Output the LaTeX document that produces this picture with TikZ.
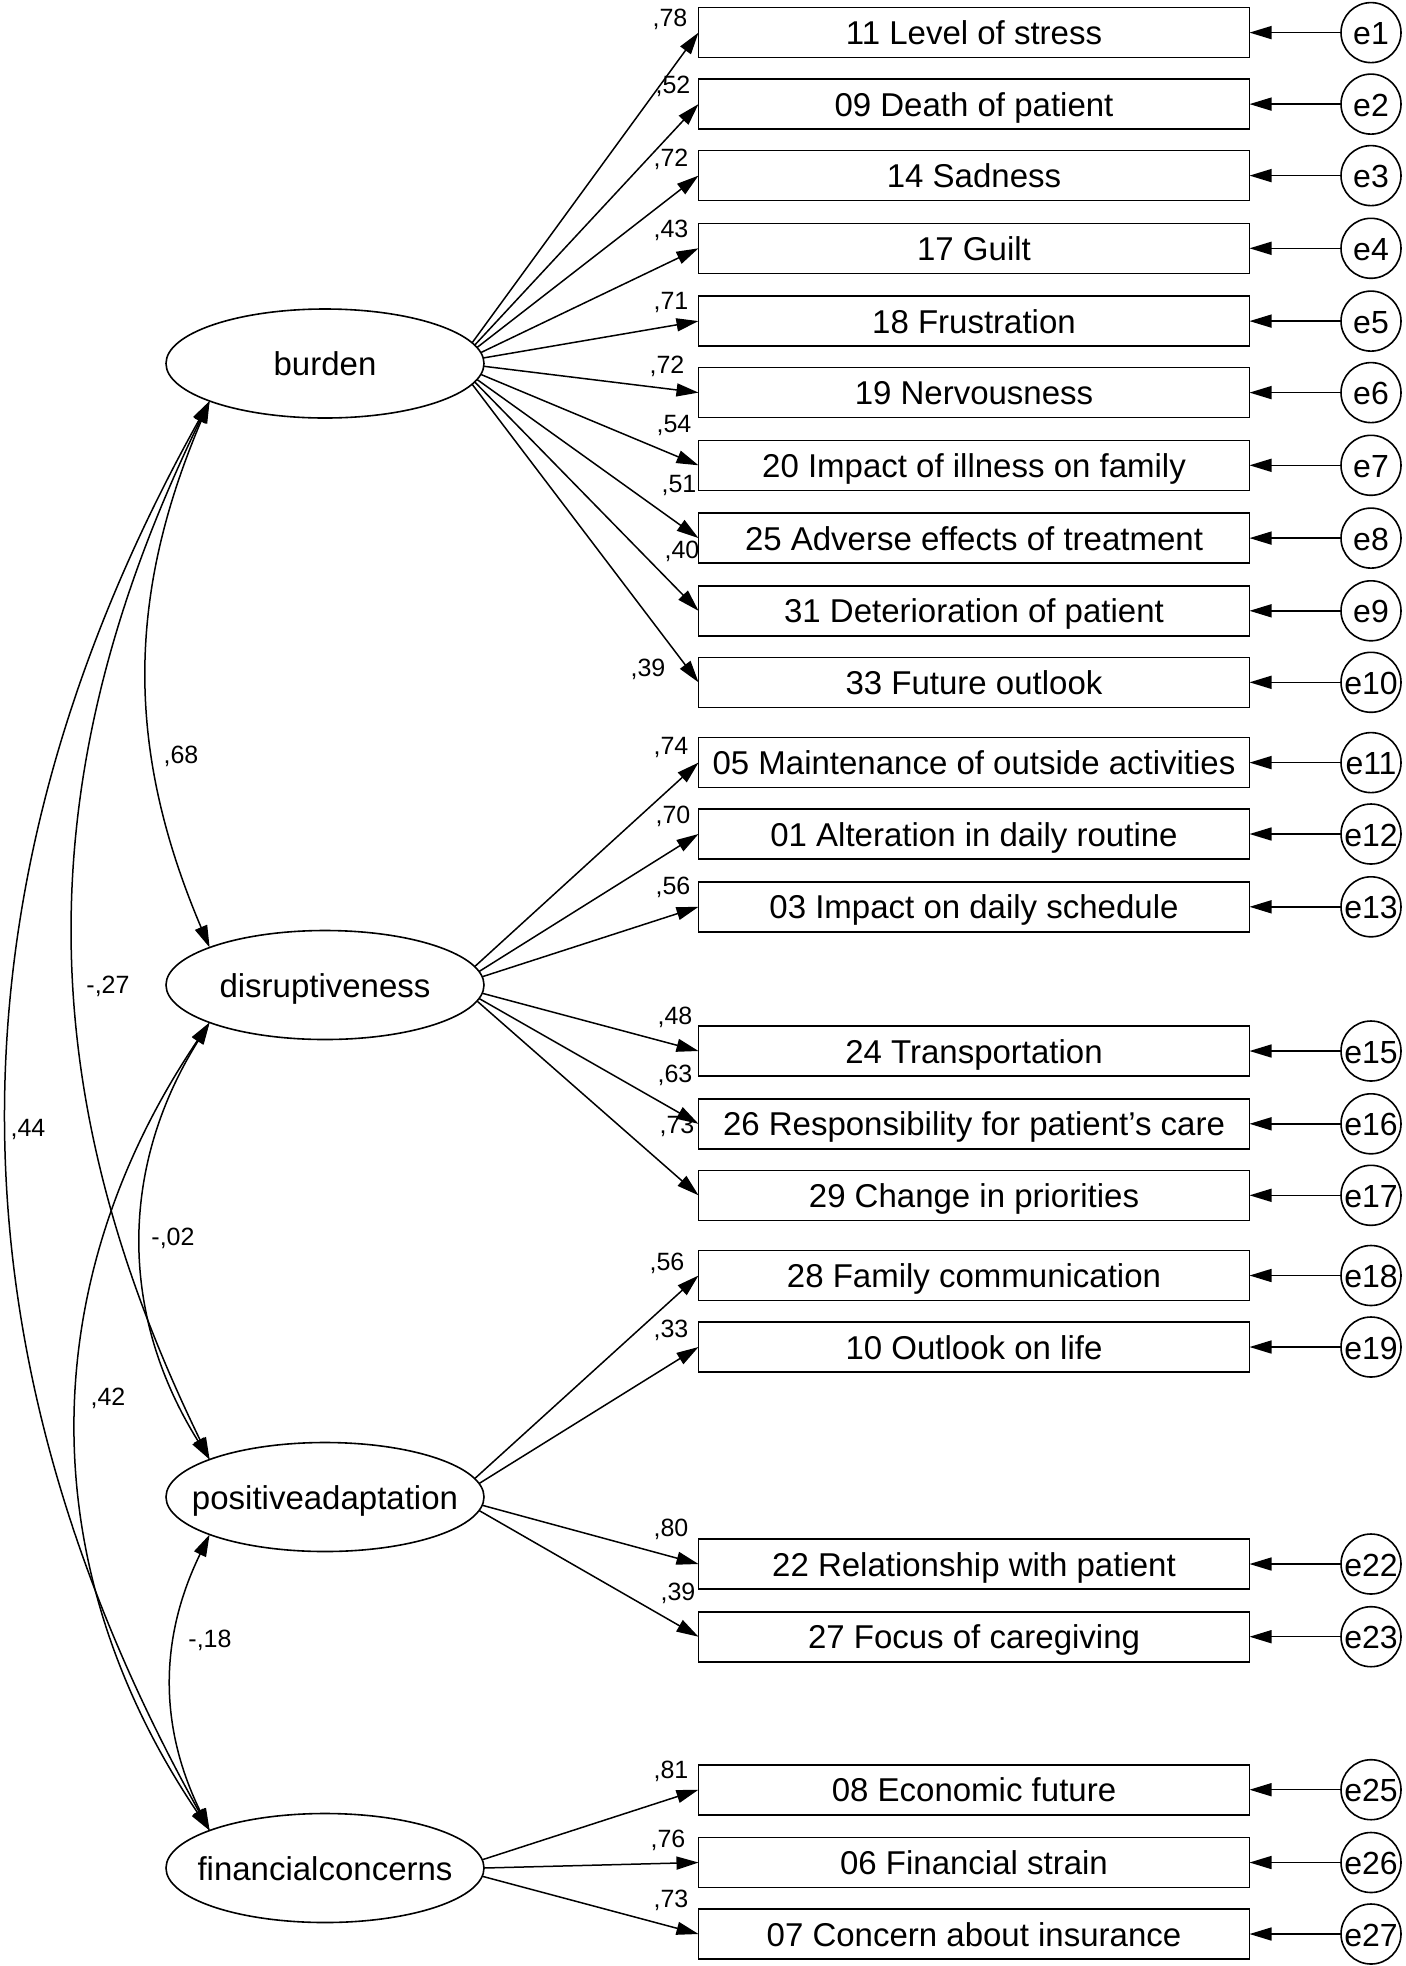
\documentclass[tikz,border=0pt]{standalone}
\usepackage{fontspec}
\setmainfont{Liberation Sans}
\usetikzlibrary{arrows.meta,shapes.geometric}

\begin{document}
\begin{tikzpicture}[x=1pt,y=-1pt,
	latent/.style={draw,ellipse,line width=1.6pt,minimum width=318pt,minimum height=109pt,inner sep=0pt,outer sep=0pt,text height=24pt,text depth=0pt,font=\fontsize{33}{40}\selectfont},
	item/.style={draw,rectangle,line width=1.6pt,minimum width=551pt,minimum height=50pt,inner sep=0pt,outer sep=0pt,text height=24pt,text depth=0pt,font=\fontsize{33}{40}\selectfont},
	err/.style={draw,circle,line width=1.6pt,minimum size=60pt,inner sep=0pt,outer sep=0pt,text height=24pt,text depth=0pt,font=\fontsize{32}{40}\selectfont},
	load/.style={line width=1.5pt,-{Triangle[length=22pt,width=13pt]}},
	cov/.style={line width=1.5pt,{Triangle[length=22pt,width=13pt]}-{Triangle[length=22pt,width=13pt]}},
	coef/.style={font=\fontsize{25}{30}\selectfont,inner sep=0pt}]
	\useasboundingbox (0,0) rectangle (1406,1966);

	\node[latent] (burden)   at (325,363.5) {\makebox[0pt]{burden}};
	\node[latent] (disrupt)  at (325,985)   {\makebox[0pt]{disruptiveness}};
	\node[latent] (posadapt) at (325,1497)  {\makebox[0pt]{positiveadaptation}};
	\node[latent] (fincon)   at (325,1868)  {\makebox[0pt]{financialconcerns}};

	\foreach \nm/\y/\txt/\er in {i11/32.6/11 Level of stress/e1, i09/104.1/09 Death of patient/e2,
		i14/175.6/14 Sadness/e3, i17/248.3/17 Guilt/e4, i18/321.1/18 Frustration/e5,
		i19/392.6/19 Nervousness/e6, i20/465.3/20 Impact of illness on family/e7,
		i25/538.1/25 Adverse effects of treatment/e8, i31/610.8/31 Deterioration of patient/e9,
		i33/682.3/33 Future outlook/e10, i05/762.6/05 Maintenance of outside activities/e11,
		i01/834.0/01 Alteration in daily routine/e12, i03/906.8/03 Impact on daily schedule/e13,
		i24/1051.0/24 Transportation/e15, i26/1123.8/26 Responsibility for patient’s care/e16,
		i29/1195.3/29 Change in priorities/e17, i28/1275.5/28 Family communication/e18,
		i10/1347.0/10 Outlook on life/e19, i22/1564.0/22 Relationship with patient/e22,
		i27/1636.7/27 Focus of caregiving/e23, i08/1789.7/08 Economic future/e25,
		i06/1862.5/06 Financial strain/e26, i07/1934.0/07 Concern about insurance/e27}
	{
		\node[item] (\nm) at (974,\y) {\txt};
		\node[err] (\er) at (1371,\y) {\makebox[0pt]{\er}};
		\draw[load] (\er) -- (\nm);
	}

	\foreach \lv/\a/\nm in {burden/8/i11, burden/7/i09, burden/6/i14, burden/4/i17, burden/2/i18,
		burden/359/i19, burden/356/i20, burden/354/i25, burden/353/i31, burden/352/i33,
		disrupt/7/i05, disrupt/5/i01, disrupt/3/i03, disrupt/357/i24, disrupt/355/i26, disrupt/354/i29,
		posadapt/7/i28, posadapt/5/i10, posadapt/357/i22, posadapt/355/i27,
		fincon/3/i08, fincon/0/i06, fincon/357/i07}
		\draw[load] (\lv.\a) -- (\nm.west);

	\foreach \nm/\x/\y/\val in {l1/670/19/{,78}, l2/673/86/{,52}, l3/671/159/{,72}, l4/671/230/{,43},
		l5/671/302/{,71}, l6/667/366/{,72}, l7/674/425/{,54}, l8/679/485/{,51}, l9/682/551/{,40},
		l10/648/669/{,39}, l11/671/747/{,74}, l12/673/816/{,70}, l13/673/887/{,56},
		l15/675/1017/{,48}, l16/675/1075/{,63}, l17/677/1126/{,73}, l18/667/1263/{,56},
		l19/671/1330/{,33}, l22/671/1529/{,80}, l23/678/1593/{,39}, l25/671/1771/{,81},
		l26/668/1840/{,76}, l27/671/1900/{,73}}
		\node[coef] (\nm) at (\x,\y) {\val};

	\foreach \a/\b/\dx/\dy in {burden/disrupt/-83.6/197, burden/posadapt/-181.6/372.5,
		burden/fincon/-270/484.6, disrupt/posadapt/-90.6/145,
		disrupt/fincon/-176.9/262.2, posadapt/fincon/-50.7/104.1}
		\draw[cov] (\a.198) .. controls +(\dx,\dy) and +(\dx,-\dy) .. (\b.162);

	\node[coef] (r1) at (181,756)  {,68};
	\node[coef] (r2) at (108,986)  {-,27};
	\node[coef] (r3) at (28,1129)  {,44};
	\node[coef] (r4) at (173,1238) {-,02};
	\node[coef] (r5) at (108,1398) {,42};
	\node[coef] (r6) at (210,1640) {-,18};
\end{tikzpicture}
\end{document}
